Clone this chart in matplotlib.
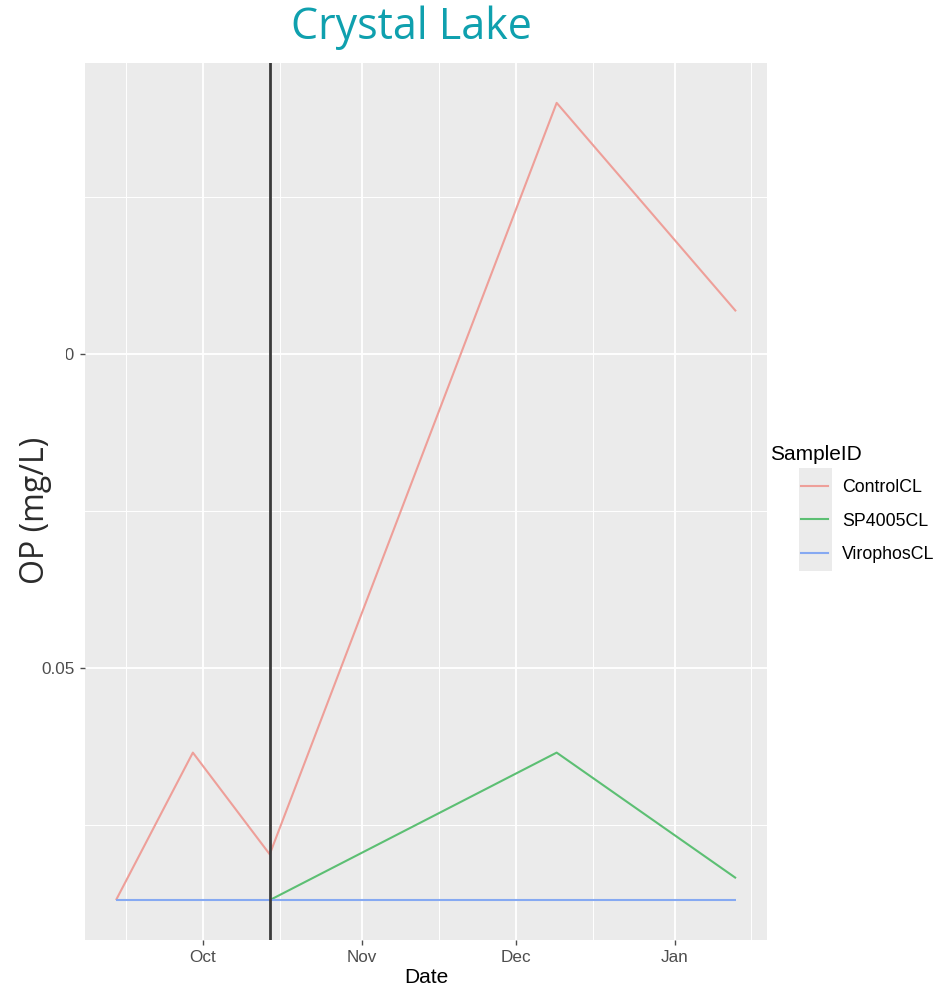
import numpy as np
import pandas as pd
import matplotlib.pyplot as plt
import matplotlib.dates as mdates
from matplotlib.lines import Line2D
from matplotlib.patches import Rectangle

### data ###

control_dates = ['2020-09-14', '2020-09-29', '2020-10-14', '2020-12-09', '2021-01-13']
control_op = [0.013, 0.0365, 0.0203, 0.140, 0.1068]

sp4005_dates = ['2020-10-14', '2020-12-09', '2021-01-13']
sp4005_op = [0.013, 0.0365, 0.0165]

virophos_dates = ['2020-09-14', '2020-09-29', '2020-10-14', '2020-12-09', '2021-01-13']
virophos_op = [0.013, 0.013, 0.013, 0.013, 0.013]

treatment_date = '2020-10-14'

series_names = ['ControlCL', 'SP4005CL', 'VirophosCL']
series_colors = ['#EE9F99', '#5CBF73', '#86A9F2']

###

W, H = 941, 998
fig = plt.figure(figsize=(W / 100, H / 100), dpi=100)

# panel placed in pixel terms
px_l, px_r, px_t, px_b = 85, 767, 63, 940
ax = fig.add_axes([px_l / W, 1 - px_b / H, (px_r - px_l) / W, (px_b - px_t) / H])
ax.set_facecolor('#EBEBEB')
for s in ax.spines.values():
    s.set_visible(False)

all_series = [(control_dates, control_op), (sp4005_dates, sp4005_op), (virophos_dates, virophos_op)]
for (d, v), name, col in zip(all_series, series_names, series_colors):
    ax.plot(pd.to_datetime(d), v, color=col, lw=1.5, label=name, zorder=3, solid_capstyle='butt')

ax.axvline(pd.to_datetime(treatment_date), color='#3A3A3A', lw=2, zorder=4)

# ggplot style 5% expansion on both axes
d_all = pd.to_datetime(control_dates + sp4005_dates + virophos_dates)
x0, x1 = mdates.date2num(d_all.min()), mdates.date2num(d_all.max())
pad = (x1 - x0) * 0.05
ax.set_xlim(x0 - pad, x1 + pad)
v_all = np.array(control_op + sp4005_op + virophos_op)
ypad = (v_all.max() - v_all.min()) * 0.05
ax.set_ylim(v_all.min() - ypad, v_all.max() + ypad)

ax.xaxis.set_major_locator(mdates.MonthLocator())
ax.xaxis.set_major_formatter(mdates.DateFormatter('%b'))
ax.xaxis.set_minor_locator(mdates.MonthLocator(bymonthday=16))
ax.set_yticks([0.05, 0.10])
ax.set_yticklabels(['0.05', '0.10'])
ax.set_yticks([0.025, 0.075, 0.125], minor=True)

ax.grid(which='major', color='white', lw=1.3)
ax.grid(which='minor', color='white', lw=0.7)
ax.set_axisbelow(True)

ax.tick_params(which='major', length=3.5, width=1, color='#4D4D4D',
               labelcolor='#4D4D4D', labelsize=12.3, pad=4)
ax.tick_params(which='minor', length=0)
for lab in ax.get_xticklabels() + ax.get_yticklabels():
    lab.set_family('Liberation Sans')

ax.set_xlabel('Date', fontsize=15, family='Liberation Sans', color='black', labelpad=2)

# legend with grey key backgrounds
fig.patches.append(Rectangle((799 / W, 1 - 571 / H), 33 / W, 103 / H,
                             transform=fig.transFigure, facecolor='#EBEBEB',
                             edgecolor='none', zorder=0))
fig.text(770 / W, 1 - 455 / H, 'SampleID', ha='left', va='center',
         fontsize=15, family='Liberation Sans', color='black')
handles = [Line2D([], [], color=c, lw=1.5) for c in series_colors]
leg = fig.legend(handles, series_names, loc='center left',
                 bbox_to_anchor=(801 / W, 1 - 521 / H), bbox_transform=fig.transFigure,
                 frameon=False, borderpad=0, borderaxespad=0, handlelength=1.52,
                 handletextpad=0.79, labelspacing=0.92,
                 prop={'family': 'Liberation Sans', 'size': 12.8})

# white label box over the left side of the y axis
fig.patches.append(Rectangle((0, 1 - 650 / H), 66 / W, 350 / H,
                             transform=fig.transFigure, facecolor='white',
                             edgecolor='none', zorder=5))
fig.text(35 / W, 1 - 510 / H, 'OP (mg/L)', rotation=90, ha='center', va='center',
         fontsize=23, family='Open Sans', color='#2B2B2B', zorder=6)

fig.text(411 / W, 1 - 28 / H, 'Crystal Lake', ha='center', va='center',
         fontsize=31, family='Open Sans', color='#0FA0AE')

plt.savefig('out.png', dpi=100)
